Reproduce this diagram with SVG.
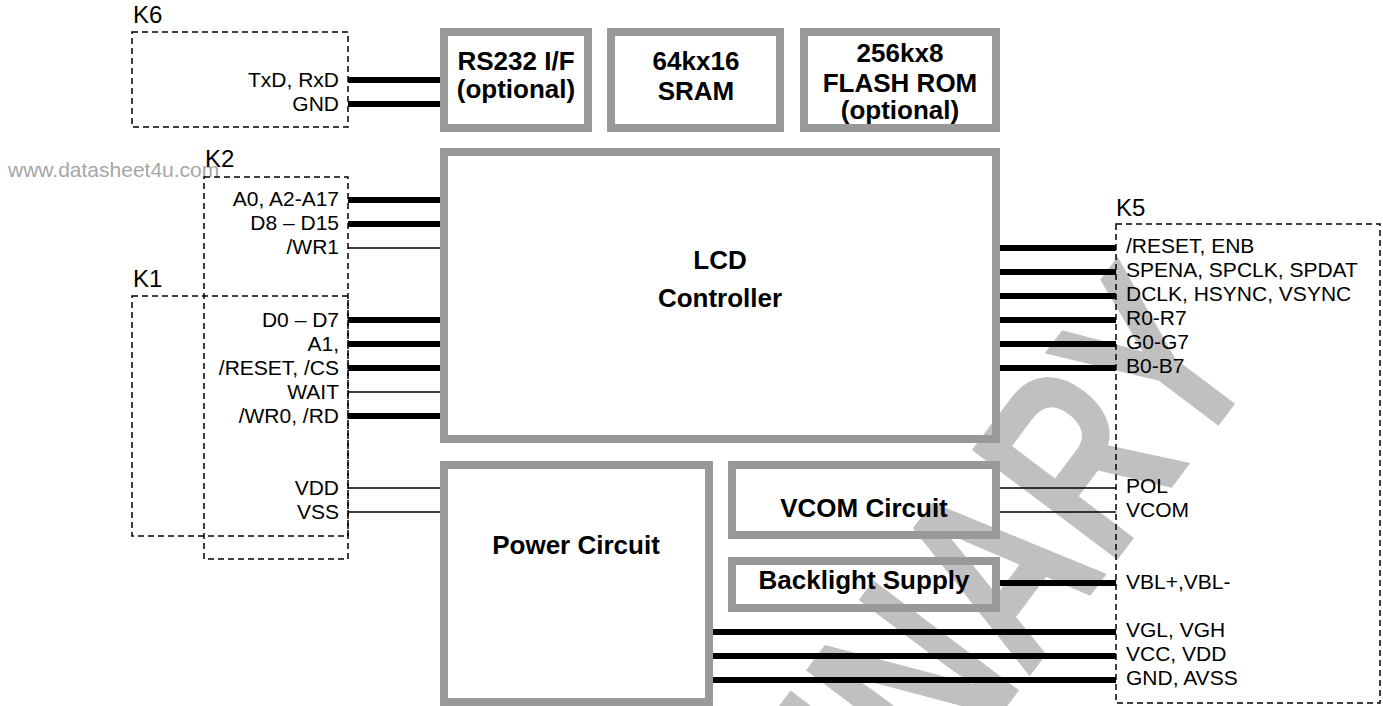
<svg xmlns="http://www.w3.org/2000/svg" width="1383" height="706" viewBox="0 0 1383 706">
<style>
.box{fill:none;stroke:#999;stroke-width:8}
.dash{fill:none;stroke:#000;stroke-width:1.5;stroke-dasharray:6 4}
.bus{stroke:#000;stroke-width:6}
.sig{stroke:#000;stroke-width:1.5}
.lbl{font-family:"Liberation Sans",Arial,sans-serif;font-size:21px;fill:#000}
.r{text-anchor:end}
.k{font-family:"Liberation Sans",Arial,sans-serif;font-size:24px;fill:#000}
.bt{font-family:"Liberation Sans",Arial,sans-serif;font-weight:bold;font-size:26px;text-anchor:middle;fill:#000}
.wm{font-family:"Liberation Sans",Arial,sans-serif;fill:#c0c0c0}
</style>
<rect width="1383" height="706" fill="#fff"/>
<g id="watermark">
<text class="wm" font-size="265" font-weight="bold" text-anchor="end" transform="translate(1265,364) rotate(-53) scale(0.72,1)">PRELIMINARY</text>
<text x="8" y="177" font-family="Liberation Sans,Arial,sans-serif" font-size="21" fill="#a6a6a6">www.datasheet4u.com</text>
</g>
<g id="connectors">
<line class="bus" x1="348" y1="80" x2="440" y2="80"/>
<line class="bus" x1="348" y1="104" x2="440" y2="104"/>
<line class="bus" x1="348" y1="200" x2="440" y2="200"/>
<line class="bus" x1="348" y1="224" x2="440" y2="224"/>
<line class="sig" x1="348" y1="248" x2="444" y2="248"/>
<line class="bus" x1="348" y1="320" x2="440" y2="320"/>
<line class="bus" x1="348" y1="344" x2="440" y2="344"/>
<line class="bus" x1="348" y1="368" x2="440" y2="368"/>
<line class="sig" x1="348" y1="392" x2="440" y2="392"/>
<line class="bus" x1="348" y1="416" x2="444" y2="416"/>
<line class="sig" x1="348" y1="488" x2="440" y2="488"/>
<line class="sig" x1="348" y1="512" x2="440" y2="512"/>
<line class="bus" x1="1000" y1="248" x2="1116" y2="248"/>
<line class="bus" x1="1000" y1="272" x2="1116" y2="272"/>
<line class="bus" x1="1000" y1="296" x2="1116" y2="296"/>
<line class="bus" x1="1000" y1="320" x2="1116" y2="320"/>
<line class="bus" x1="1000" y1="344" x2="1116" y2="344"/>
<line class="bus" x1="1000" y1="368" x2="1116" y2="368"/>
<line class="sig" x1="1000" y1="488" x2="1116" y2="488"/>
<line class="sig" x1="1000" y1="512" x2="1116" y2="512"/>
<line class="bus" x1="1000" y1="583" x2="1116" y2="583"/>
<line class="bus" x1="713" y1="632" x2="1116" y2="632"/>
<line class="bus" x1="713" y1="656" x2="1116" y2="656"/>
<line class="bus" x1="713" y1="680" x2="1116" y2="680"/>
</g>
<g id="K6">
<rect class="dash" x="132" y="32" width="216" height="95"/>
<text class="k" x="133" y="23">K6</text>
<text class="lbl r" x="339" y="87">TxD, RxD</text>
<text class="lbl r" x="339" y="111">GND</text>
</g>
<g id="K2">
<rect class="dash" x="204" y="177" width="144" height="382"/>
<text class="k" x="205" y="167">K2</text>
<text class="lbl r" x="339" y="206">A0, A2-A17</text>
<text class="lbl r" x="339" y="230">D8 – D15</text>
<text class="lbl r" x="339" y="254">/WR1</text>
</g>
<g id="K1">
<rect class="dash" x="132" y="296" width="216" height="240"/>
<text class="k" x="133" y="287">K1</text>
<text class="lbl r" x="339" y="327">D0 – D7</text>
<text class="lbl r" x="339" y="351">A1,</text>
<text class="lbl r" x="339" y="375">/RESET, /CS</text>
<text class="lbl r" x="339" y="399">WAIT</text>
<text class="lbl r" x="339" y="423">/WR0, /RD</text>
<text class="lbl r" x="339" y="495">VDD</text>
<text class="lbl r" x="339" y="519">VSS</text>
</g>
<g id="K5">
<rect class="dash" x="1116" y="224" width="264" height="479"/>
<text class="k" x="1116" y="216">K5</text>
<text class="lbl" x="1126" y="253">/RESET, ENB</text>
<text class="lbl" x="1126" y="277">SPENA, SPCLK, SPDAT</text>
<text class="lbl" x="1126" y="301">DCLK, HSYNC, VSYNC</text>
<text class="lbl" x="1126" y="325">R0-R7</text>
<text class="lbl" x="1126" y="349">G0-G7</text>
<text class="lbl" x="1126" y="373">B0-B7</text>
<text class="lbl" x="1126" y="493">POL</text>
<text class="lbl" x="1126" y="517">VCOM</text>
<text class="lbl" x="1126" y="589">VBL+,VBL-</text>
<text class="lbl" x="1126" y="637">VGL, VGH</text>
<text class="lbl" x="1126" y="661">VCC, VDD</text>
<text class="lbl" x="1126" y="685">GND, AVSS</text>
</g>
<g id="rs232">
<rect class="box" x="444" y="32" width="144" height="96"/>
<text class="bt" x="516" y="70">RS232 I/F</text>
<text class="bt" x="516" y="98">(optional)</text>
</g>
<g id="sram">
<rect class="box" x="611" y="32" width="169" height="96"/>
<text class="bt" x="696" y="70">64kx16</text>
<text class="bt" x="696" y="100">SRAM</text>
</g>
<g id="flash">
<rect class="box" x="804" y="32" width="192" height="96"/>
<text class="bt" x="900" y="62">256kx8</text>
<text class="bt" x="900" y="92">FLASH ROM</text>
<text class="bt" x="900" y="119">(optional)</text>
</g>
<g id="lcd">
<rect class="box" x="444" y="152" width="552" height="287"/>
<text class="bt" x="720" y="269" font-size="31">LCD</text>
<text class="bt" x="720" y="307" font-size="31">Controller</text>
</g>
<g id="power">
<rect class="box" x="444" y="465" width="265" height="237"/>
<text class="bt" x="576" y="554">Power Circuit</text>
</g>
<g id="vcom">
<rect class="box" x="732" y="465" width="264" height="70"/>
<text class="bt" x="864" y="517">VCOM Circuit</text>
</g>
<g id="backlight">
<rect class="box" x="732" y="561" width="264" height="47"/>
<text class="bt" x="864" y="589">Backlight Supply</text>
</g>
</svg>
